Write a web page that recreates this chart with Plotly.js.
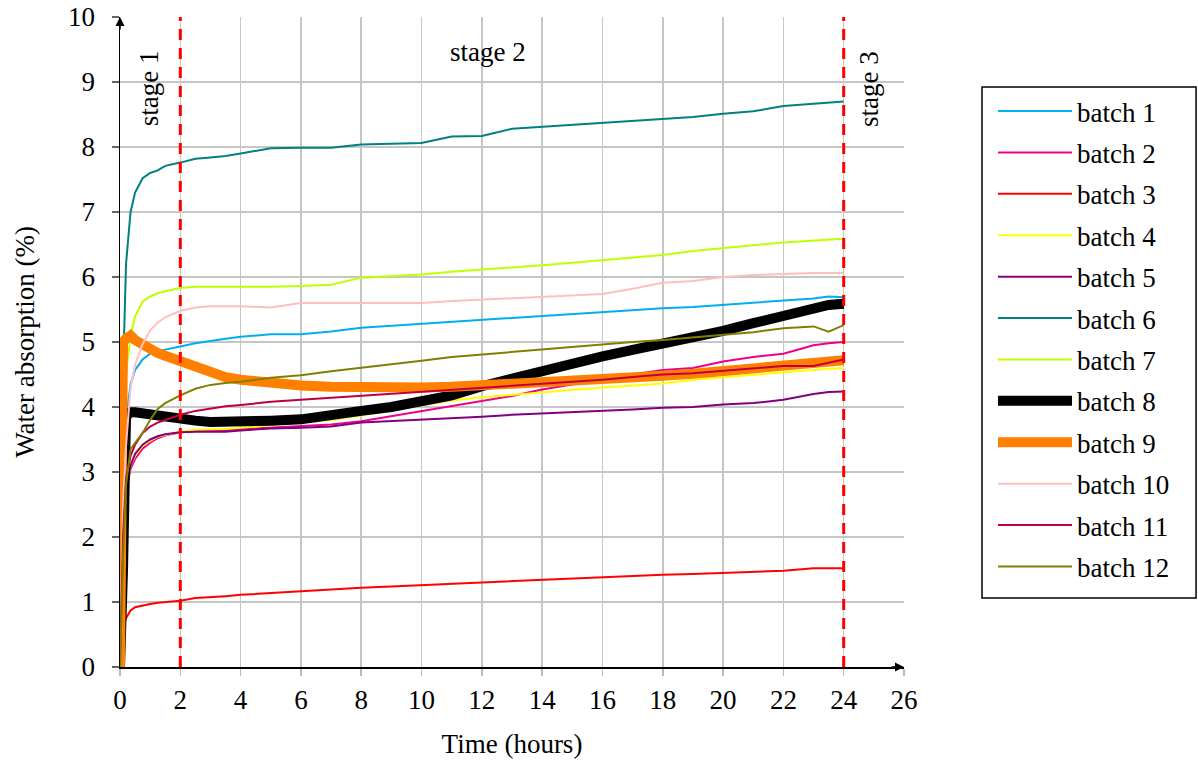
<!DOCTYPE html>
<html>
<head>
<meta charset="utf-8">
<script src="https://cdn.plot.ly/plotly-3.0.1.min.js"></script>
<style>html,body{margin:0;padding:0;background:#fff;}#chart{width:1198px;height:765px;}</style>
</head>
<body>
<div id="chart"></div>
<script>
// Time axis (hours)
const time = [0, 0.05, 0.1, 0.2, 0.35, 0.5, 0.75, 1, 1.25, 1.5, 2, 2.5, 3, 3.5, 4, 5, 6, 7, 8, 9, 10, 11, 12, 13, 14, 15, 16, 17, 18, 19, 20, 21, 22, 23, 23.5, 24];

const batchNames = ["batch 1","batch 2","batch 3","batch 4","batch 5","batch 6","batch 7","batch 8","batch 9","batch 10","batch 11","batch 12"];

// Water absorption (%) per batch
const batch1  = [0, 1.0, 2.5, 3.8, 4.35, 4.57, 4.73, 4.82, 4.86, 4.88, 4.93, 4.98, 5.02, 5.05, 5.08, 5.12, 5.12, 5.16, 5.22, 5.25, 5.28, 5.31, 5.34, 5.37, 5.40, 5.44, 5.47, 5.49, 5.52, 5.54, 5.57, 5.60, 5.63, 5.67, 5.70, 5.69];
const batch2  = [0, 1.0, 2.0, 2.7, 3.05, 3.20, 3.36, 3.45, 3.52, 3.56, 3.61, 3.63, 3.63, 3.64, 3.66, 3.68, 3.70, 3.73, 3.78, 3.86, 3.93, 4.02, 4.10, 4.17, 4.27, 4.35, 4.43, 4.50, 4.57, 4.60, 4.70, 4.77, 4.82, 4.95, 4.98, 5.00];
const batch3  = [0, 0.3, 0.6, 0.75, 0.87, 0.92, 0.95, 0.97, 0.99, 1.00, 1.02, 1.06, 1.07, 1.09, 1.11, 1.14, 1.17, 1.20, 1.22, 1.24, 1.26, 1.28, 1.31, 1.32, 1.34, 1.37, 1.38, 1.40, 1.42, 1.43, 1.45, 1.46, 1.48, 1.52, 1.52, 1.52];
const batch4  = [0, 0.8, 1.8, 2.7, 3.10, 3.25, 3.40, 3.48, 3.54, 3.57, 3.62, 3.65, 3.65, 3.66, 3.68, 3.72, 3.75, 3.80, 3.87, 3.95, 4.03, 4.10, 4.15, 4.19, 4.23, 4.26, 4.30, 4.33, 4.36, 4.42, 4.46, 4.50, 4.54, 4.58, 4.59, 4.60];
const batch5  = [0, 0.8, 1.8, 2.7, 3.10, 3.28, 3.42, 3.50, 3.55, 3.58, 3.61, 3.62, 3.62, 3.62, 3.64, 3.67, 3.68, 3.70, 3.76, 3.78, 3.80, 3.82, 3.85, 3.88, 3.90, 3.91, 3.93, 3.96, 3.99, 4.00, 4.04, 4.06, 4.11, 4.20, 4.23, 4.24];
const batch6  = [0, 1.5, 4.5, 6.2, 7.00, 7.30, 7.52, 7.60, 7.64, 7.71, 7.76, 7.82, 7.84, 7.86, 7.90, 7.98, 7.99, 7.99, 8.04, 8.05, 8.06, 8.16, 8.17, 8.28, 8.31, 8.34, 8.37, 8.39, 8.42, 8.46, 8.51, 8.55, 8.63, 8.67, 8.68, 8.70];
const batch7  = [0, 1.5, 3.0, 4.5, 5.10, 5.40, 5.62, 5.70, 5.75, 5.78, 5.83, 5.85, 5.85, 5.84, 5.85, 5.85, 5.86, 5.88, 5.99, 6.01, 6.04, 6.08, 6.11, 6.14, 6.18, 6.22, 6.26, 6.30, 6.34, 6.40, 6.45, 6.49, 6.53, 6.56, 6.58, 6.59];
const batch8  = [0, 0.5, 1.5, 3.85, 3.92, 3.92, 3.90, 3.89, 3.87, 3.85, 3.82, 3.79, 3.77, 3.77, 3.78, 3.79, 3.81, 3.86, 3.94, 4.00, 4.08, 4.18, 4.32, 4.44, 4.56, 4.67, 4.78, 4.88, 4.97, 5.06, 5.17, 5.29, 5.40, 5.53, 5.57, 5.59];
const batch9  = [0, 3.5, 5.0, 5.05, 5.10, 5.03, 4.95, 4.88, 4.83, 4.79, 4.70, 4.60, 4.52, 4.46, 4.42, 4.37, 4.33, 4.31, 4.30, 4.30, 4.30, 4.31, 4.33, 4.35, 4.37, 4.39, 4.42, 4.45, 4.48, 4.51, 4.55, 4.59, 4.64, 4.69, 4.71, 4.72];
const batch10 = [0, 1.5, 2.5, 3.4, 4.30, 4.65, 4.97, 5.18, 5.30, 5.38, 5.48, 5.53, 5.55, 5.55, 5.55, 5.53, 5.60, 5.60, 5.60, 5.60, 5.60, 5.63, 5.65, 5.67, 5.69, 5.71, 5.74, 5.82, 5.91, 5.94, 6.00, 6.03, 6.05, 6.06, 6.06, 6.06];
const batch11 = [0, 1.0, 2.0, 2.9, 3.25, 3.42, 3.60, 3.70, 3.76, 3.80, 3.88, 3.94, 3.98, 4.01, 4.03, 4.08, 4.11, 4.14, 4.18, 4.20, 4.24, 4.27, 4.30, 4.33, 4.36, 4.39, 4.42, 4.46, 4.50, 4.52, 4.56, 4.59, 4.63, 4.63, 4.68, 4.73];
const batch12 = [0, 0.8, 1.7, 2.8, 3.35, 3.45, 3.60, 3.80, 3.97, 4.06, 4.18, 4.28, 4.34, 4.37, 4.39, 4.45, 4.49, 4.55, 4.60, 4.66, 4.71, 4.77, 4.81, 4.85, 4.89, 4.93, 4.96, 5.00, 5.03, 5.07, 5.10, 5.15, 5.21, 5.24, 5.16, 5.26];

const batchValues = [batch1, batch2, batch3, batch4, batch5, batch6, batch7, batch8, batch9, batch10, batch11, batch12];
const batchColors = ["#00aeef", "#ec008c", "#ff0000", "#ffff00", "#800080", "#008080", "#bfff00", "#000000", "#ff8000", "#ffbfbf", "#bf0040", "#808000"];
const batchWidths = [2, 2, 2, 2, 2, 2, 2, 10, 10, 2, 2, 2];

// Stage boundaries and labels
const stageBounds = [2, 24];
const stageLabels = ["stage 1", "stage 2", "stage 3"];

const xTicks = [0,2,4,6,8,10,12,14,16,18,20,22,24,26];
const yTicks = [0,1,2,3,4,5,6,7,8,9,10];

const FONT = "'Liberation Serif', 'Times New Roman', serif";
const FS = 27;

const traces = batchNames.map((name, i) => ({
  x: time,
  y: batchValues[i],
  type: "scatter",
  mode: "lines",
  name: name,
  legendgroup: name,
  line: {color: batchColors[i], width: batchWidths[i]}
}));

const shapes = stageBounds.map(b => ({
  type: "line", xref: "x", yref: "y",
  x0: b, x1: b, y0: 0, y1: 10,
  line: {color: "#ff0000", width: 3, dash: "11px,8px"}
}));
// legend frame
shapes.push({
  type: "rect", xref: "paper", yref: "paper",
  x0: 1.0995, x1: 1.3725, y0: 0.1062, y1: 0.8923,
  line: {color: "#000", width: 1.5}, fillcolor: "#fff", layer: "below"
});

const annotations = [
  {xref: "x", yref: "y", x: 0.95, y: 8.9, text: stageLabels[0], textangle: -90, showarrow: false, font: {family: FONT, size: FS, color: "#000"}},
  {xref: "x", yref: "y", x: 12.2, y: 9.46, text: stageLabels[1], showarrow: false, font: {family: FONT, size: FS, color: "#000"}},
  {xref: "x", yref: "y", x: 24.82, y: 8.9, text: stageLabels[2], textangle: -90, showarrow: false, font: {family: FONT, size: FS, color: "#000"}},
  // axis arrows
  {xref: "x", yref: "y", x: 0, y: 10, ax: 0, ay: 14, text: "", showarrow: true, arrowhead: 2, arrowsize: 1.2, arrowwidth: 1.5, arrowcolor: "#000"},
  {xref: "x", yref: "y", x: 26, y: 0, ax: -14, ay: 0, text: "", showarrow: true, arrowhead: 2, arrowsize: 1.2, arrowwidth: 1.5, arrowcolor: "#000"}
];

const layout = {
  width: 1198, height: 765,
  margin: {l: 120, r: 294, t: 17, b: 98},
  paper_bgcolor: "#fff", plot_bgcolor: "#fff",
  font: {family: FONT, size: FS, color: "#000"},
  showlegend: true,
  legend: {
    x: 1.1135, xanchor: "left", y: 0.8923, yanchor: "top",
    bgcolor: "rgba(0,0,0,0)", borderwidth: 0,
    font: {family: FONT, size: FS, color: "#000"},
    traceorder: "grouped", tracegroupgap: 3.3, itemwidth: 74
  },
  xaxis: {
    range: [0, 26], tickvals: xTicks, ticktext: xTicks.map(String),
    showgrid: true, gridcolor: "#c6c6c6", gridwidth: 1.5,
    zeroline: false, showline: true, linecolor: "#000", linewidth: 1.5,
    ticks: "outside", ticklen: 7, tickcolor: "#bbb", tickwidth: 1.5,
    ticklabelstandoff: 1,
    title: {text: "Time (hours)", font: {family: FONT, size: FS}, standoff: 20},
    automargin: false
  },
  yaxis: {
    range: [0, 10], tickvals: yTicks, ticktext: yTicks.map(String),
    showgrid: true, gridcolor: "#c6c6c6", gridwidth: 1.5,
    zeroline: false, showline: true, linecolor: "#000", linewidth: 1.5,
    ticks: "outside", ticklen: 7, tickcolor: "#666", tickwidth: 1.5,
    ticklabelstandoff: 11,
    title: {text: "Water absorption (%)", font: {family: FONT, size: FS}, standoff: 25},
    automargin: false
  },
  shapes: shapes,
  annotations: annotations
};

Plotly.newPlot("chart", traces, layout, {displayModeBar: false, staticPlot: true});
</script>
</body>
</html>
